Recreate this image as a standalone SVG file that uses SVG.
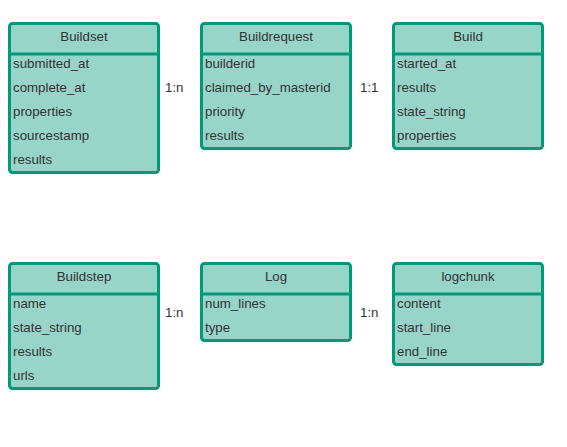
<svg xmlns="http://www.w3.org/2000/svg" width="567" height="447" viewBox="0 0 567 447">
<style>
.box{fill:#97d5c9;stroke:#00997a;stroke-width:3}
.sep{stroke:#00997a;stroke-width:3}
text{font-family:"Liberation Sans",Arial,sans-serif;font-size:13.3px;fill:#333333}
.h{text-anchor:middle}
</style>
<rect width="567" height="447" fill="#ffffff"/>
<g id="buildset">
<rect class="box" x="9.5" y="23.5" width="149" height="149" rx="3"/>
<line class="sep" x1="9.5" y1="54" x2="158.5" y2="54"/>
<text class="h" x="84" y="41">Buildset</text>
<text x="13" y="68">submitted_at</text>
<text x="13" y="92">complete_at</text>
<text x="13" y="116">properties</text>
<text x="13" y="140">sourcestamp</text>
<text x="13" y="164">results</text>
</g>
<g id="buildrequest">
<rect class="box" x="201.5" y="23.5" width="149" height="125" rx="3"/>
<line class="sep" x1="201.5" y1="54" x2="350.5" y2="54"/>
<text class="h" x="276" y="41">Buildrequest</text>
<text x="205" y="68">builderid</text>
<text x="205" y="92">claimed_by_masterid</text>
<text x="205" y="116">priority</text>
<text x="205" y="140">results</text>
</g>
<g id="build">
<rect class="box" x="393.5" y="23.5" width="149" height="125" rx="3"/>
<line class="sep" x1="393.5" y1="54" x2="542.5" y2="54"/>
<text class="h" x="468" y="41">Build</text>
<text x="397" y="68">started_at</text>
<text x="397" y="92">results</text>
<text x="397" y="116">state_string</text>
<text x="397" y="140">properties</text>
</g>
<g id="buildstep">
<rect class="box" x="9.5" y="263.5" width="149" height="125" rx="3"/>
<line class="sep" x1="9.5" y1="294" x2="158.5" y2="294"/>
<text class="h" x="84" y="281">Buildstep</text>
<text x="13" y="308">name</text>
<text x="13" y="332">state_string</text>
<text x="13" y="356">results</text>
<text x="13" y="380">urls</text>
</g>
<g id="log">
<rect class="box" x="201.5" y="263.5" width="149" height="77" rx="3"/>
<line class="sep" x1="201.5" y1="294" x2="350.5" y2="294"/>
<text class="h" x="276" y="281">Log</text>
<text x="205" y="308">num_lines</text>
<text x="205" y="332">type</text>
</g>
<g id="logchunk">
<rect class="box" x="393.5" y="263.5" width="149" height="101" rx="3"/>
<line class="sep" x1="393.5" y1="294" x2="542.5" y2="294"/>
<text class="h" x="468" y="281">logchunk</text>
<text x="397" y="308">content</text>
<text x="397" y="332">start_line</text>
<text x="397" y="356">end_line</text>
</g>
<g id="connectors">
<text x="165" y="92">1:n</text>
<text x="360" y="92">1:1</text>
<text x="165" y="317">1:n</text>
<text x="360" y="317">1:n</text>
</g>
</svg>
